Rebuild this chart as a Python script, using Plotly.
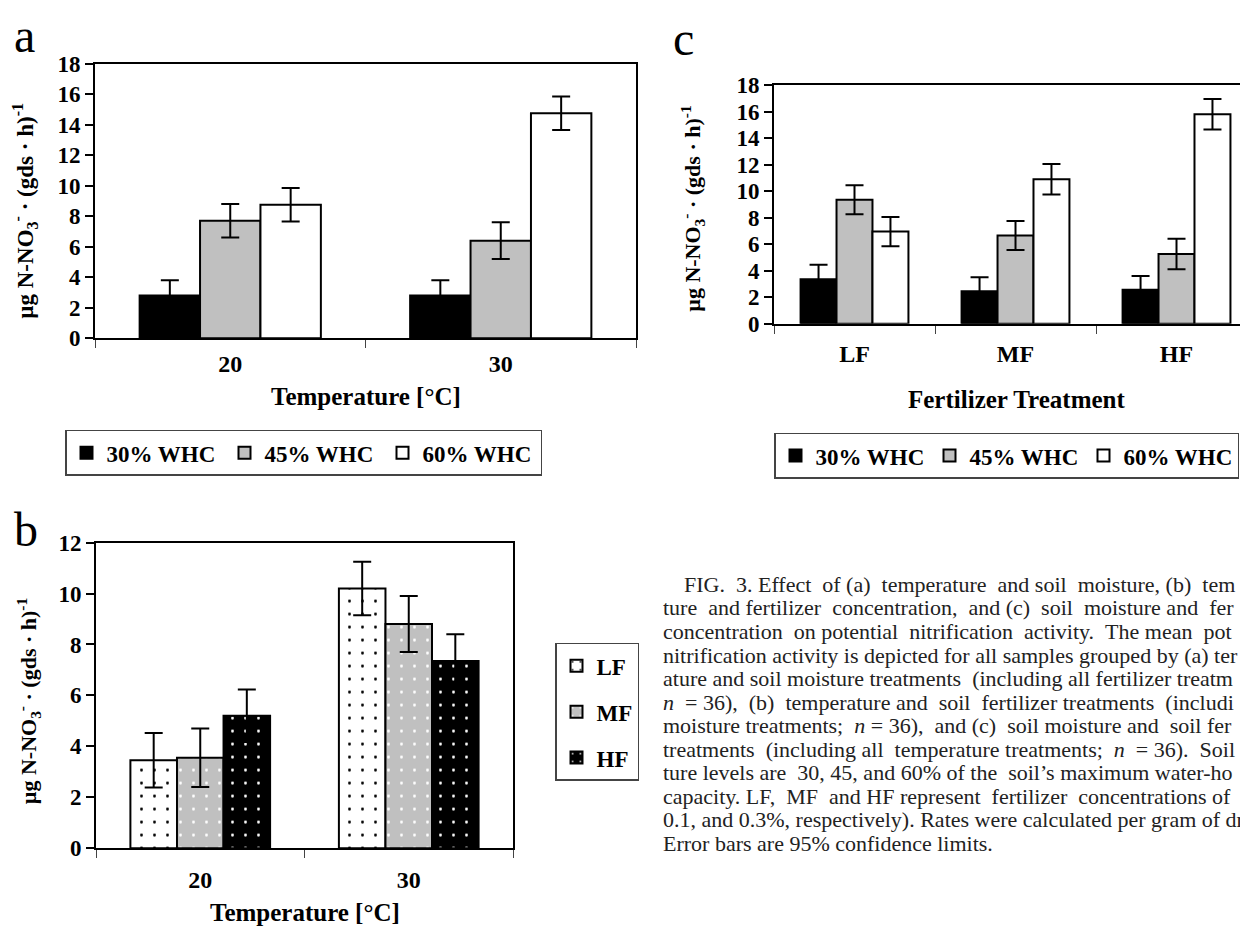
import re
import plotly.graph_objects as go

# page is 1248x940; the html body has an 8px margin, so the figure is 8px smaller
OFF = 8
W, H = 1248 - OFF, 940 - OFF

# ---------------- data ----------------
temps = ["20", "30"]
fert = ["LF", "MF", "HF"]

# panel a: temperature x soil moisture
a_names = ["30% WHC", "45% WHC", "60% WHC"]
a_vals = [[2.8, 2.8], [7.7, 6.4], [8.75, 14.75]]
a_errs = [[1.0, 1.0], [1.1, 1.2], [1.1, 1.1]]

# panel b: temperature x fertilizer
b_names = ["LF", "MF", "HF"]
b_vals = [[3.45, 10.2], [3.55, 8.8], [5.2, 7.35]]
b_errs = [[1.07, 1.05], [1.15, 1.1], [1.03, 1.05]]

# panel c: fertilizer x soil moisture
c_names = ["30% WHC", "45% WHC", "60% WHC"]
c_vals = [[3.35, 2.45, 2.55], [9.35, 6.65, 5.25], [6.95, 10.9, 15.8]]
c_errs = [[1.1, 1.05, 1.05], [1.1, 1.1, 1.15], [1.1, 1.15, 1.15]]

caption_lines = [
    "FIG. 3. Effect of (a) temperature and soil moisture, (b) tem",
    "ture and fertilizer concentration, and (c) soil moisture and fer",
    "concentration on potential nitrification activity. The mean pot",
    "nitrification activity is depicted for all samples grouped by (a) ter",
    "ature and soil moisture treatments (including all fertilizer treatm",
    "<i>n</i> = 36), (b) temperature and soil fertilizer treatments (includi",
    "moisture treatments; <i>n</i> = 36), and (c) soil moisture and soil fer",
    "treatments (including all temperature treatments; <i>n</i> = 36). Soil",
    "ture levels are 30, 45, and 60% of the soil\u2019s maximum water-ho",
    "capacity. LF, MF and HF represent fertilizer concentrations of",
    "0.1, and 0.3%, respectively). Rates were calculated per gram of dr",
    "Error bars are 95% confidence limits.",
]

ytitle = "\u00b5g N-NO<sub>3</sub><sup>-</sup> \u00b7 (gds \u00b7 h)<sup>-1</sup>"

# ---------------- styles ----------------
SERIF = "Liberation Serif"
whc_colors = ["black", "#c0c0c0", "white"]
fert_bg = ["white", "#c0c0c0", "black"]
fert_fg = ["black", "white", "white"]
CAP_FS = 22
CAP_RIGHT = 1232

# approximate Times glyph advance widths (1/1000 em), used only to justify caption lines
_TW = {' ': 250, '!': 333, '%': 833, "'": 180, '(': 333, ')': 333, ',': 250, '-': 333,
       '.': 250, ':': 278, ';': 278, '=': 564, '\u2019': 333,
       'A': 722, 'B': 667, 'C': 667, 'D': 722, 'E': 611, 'F': 556, 'G': 722, 'H': 722,
       'I': 333, 'L': 611, 'M': 889, 'N': 722, 'R': 667, 'S': 556, 'T': 611, 'W': 944,
       'a': 444, 'b': 500, 'c': 444, 'd': 500, 'e': 444, 'f': 333, 'g': 500, 'h': 500,
       'i': 278, 'j': 278, 'k': 500, 'l': 278, 'm': 778, 'n': 500, 'o': 500, 'p': 500,
       'q': 500, 'r': 333, 's': 389, 't': 278, 'u': 500, 'v': 500, 'w': 722, 'x': 500,
       'y': 500, 'z': 444}


def text_width(s, fs):
    plain = re.sub(r"<[^>]+>", "", s)
    return sum(_TW.get(ch, 500) for ch in plain) / 1000.0 * fs


def justify(s, x0, right, fs):
    words = s.split(" ")
    gaps = len(words) - 1
    extra = right - x0 - text_width(s, fs)
    k = max(0, int(round(extra / (0.25 * fs))))
    out = words[0]
    for j in range(gaps):
        add = int(round((j + 1) * k / gaps)) - int(round(j * k / gaps))
        out += " " + "\u00a0" * add + words[j + 1]
    return out


def px(x):
    return (x - OFF) / W


def py(y):
    return 1 - (y - OFF) / H


fig = go.Figure()

err_style = dict(type="data", color="black", thickness=2, width=9)

for i, n in enumerate(a_names):
    fig.add_trace(go.Bar(
        x=temps, y=a_vals[i], name=n, xaxis="x", yaxis="y", legend="legend",
        marker=dict(color=whc_colors[i], line=dict(color="black", width=2)),
        error_y=dict(array=a_errs[i], **err_style),
    ))

for i, n in enumerate(b_names):
    fig.add_trace(go.Bar(
        x=temps, y=b_vals[i], name=n, xaxis="x2", yaxis="y2", legend="legend2",
        legendgroup=n,
        marker=dict(color=fert_bg[i], line=dict(color="black", width=2),
                    pattern=dict(shape=".", bgcolor=fert_bg[i], fgcolor=fert_fg[i],
                                 size=13, solidity=0.04, fillmode="replace")),
        error_y=dict(array=b_errs[i], **err_style),
    ))

for i, n in enumerate(c_names):
    fig.add_trace(go.Bar(
        x=fert, y=c_vals[i], name=n, xaxis="x3", yaxis="y3", legend="legend3",
        marker=dict(color=whc_colors[i], line=dict(color="black", width=2)),
        error_y=dict(array=c_errs[i], **err_style),
    ))

tickfont = dict(family=SERIF, size=23, color="black", weight="bold")
xtickfont = dict(family=SERIF, size=24, color="black", weight="bold")


def xax(domain, anchor, standoff, rng=None):
    d = dict(domain=domain, anchor=anchor, type="category", showline=True,
             linecolor="black", linewidth=2, mirror=True, ticks="outside",
             tickson="boundaries", ticklen=8, tickwidth=1, tickcolor="#444",
             tickfont=xtickfont, ticklabelstandoff=standoff,
             showgrid=False, zeroline=False)
    if rng is not None:
        d["range"] = rng
    return d


def yax(domain, anchor, top, mirror=True):
    return dict(domain=domain, anchor=anchor, range=[0, top], dtick=2,
                showline=True, linecolor="black", linewidth=2, mirror=mirror,
                ticks="outside", ticklen=8, tickwidth=2, tickcolor="black",
                tickfont=tickfont, showgrid=False, zeroline=False)


legend_font = dict(family=SERIF, size=23, color="black", weight="bold")
leg_common = dict(font=legend_font, bgcolor="white", bordercolor="#444",
                  borderwidth=1.5, xanchor="left", yanchor="top")

fig.update_layout(
    width=W, height=H, margin=dict(l=0, r=0, t=0, b=0),
    paper_bgcolor="white", plot_bgcolor="white",
    barmode="group", bargap=0.33, bargroupgap=0,
    xaxis=xax([px(95), px(636)], "y", 3),
    yaxis=yax([py(335), py(53)], "x", 18),
    xaxis2=xax([px(96), px(513)], "y2", 9),
    yaxis2=yax([py(859), py(545)], "x2", 12),
    xaxis3=xax([px(774), 1.0], "y3", 8, [-0.5, 2.444]),
    yaxis3=yax([py(320), py(75)], "x3", 18, mirror=False),
    legend=dict(orientation="h", x=px(65), y=py(429), entrywidth=113,
                entrywidthmode="pixels", **leg_common),
    legend2=dict(orientation="v", x=px(555), y=py(648), tracegroupgap=13,
                 traceorder="grouped", **leg_common),
    legend3=dict(orientation="h", x=px(774), y=py(432), entrywidth=109,
                 entrywidthmode="pixels", **leg_common),
    showlegend=True,
)

anns = []


def ann(text, x, y, font, **kw):
    d = dict(text=text, x=px(x), y=py(y), xref="paper", yref="paper",
             xanchor="center", yanchor="middle", showarrow=False, font=font)
    d.update(kw)
    anns.append(d)


# panel letters
for txt, x, y in [("a", 24, 24), ("b", 26, 532), ("c", 683, 27)]:
    ann(txt, x, y, dict(family=SERIF, size=48, color="black"))
# y-axis titles
for x, y, fs in [(25, 204, 23), (28, 708, 22), (693, 202, 22)]:
    ann(ytitle, x, y, dict(family=SERIF, size=fs, color="black", weight="bold"),
        textangle=-90)
# x-axis titles
for txt, x, y in [("Temperature [\u00b0C]", 366, 395), ("Temperature [\u00b0C]", 305, 925),
                  ("Fertilizer Treatment", 1016, 398)]:
    ann(txt, x, y, dict(family=SERIF, size=25, color="black", weight="bold"))
# caption (justified lines, cut by the right page edge as in the source)
for i, line in enumerate(caption_lines):
    x0 = 682 if i == 0 else 661
    txt = line if i == len(caption_lines) - 1 else justify(line, x0, CAP_RIGHT, CAP_FS)
    ann(txt, x0, 588 + 24.2 * i, dict(family=SERIF, size=CAP_FS, color="#222"),
        xanchor="left")
fig.update_layout(annotations=anns)

fig.write_html("out.html")
